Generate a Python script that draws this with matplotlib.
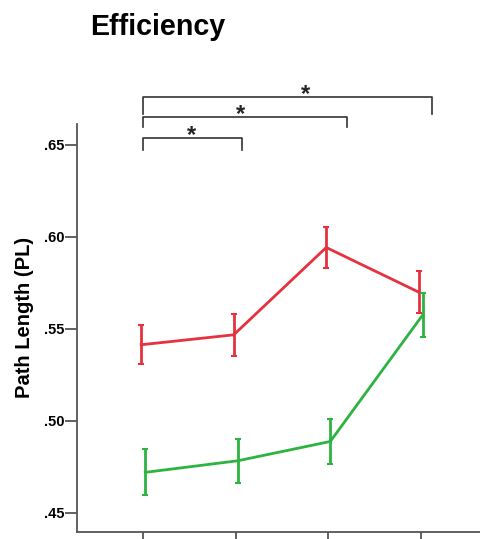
import numpy as np
import matplotlib.pyplot as plt

plt.rcParams['font.family'] = ['Liberation Sans', 'DejaVu Sans']

conditions = [1, 2, 3, 4]
red_mean = [0.5413, 0.5467, 0.5942, 0.5699]
red_err = [0.0105, 0.0115, 0.0113, 0.0113]
green_mean = [0.4719, 0.4782, 0.4887, 0.5576]
green_err = [0.0125, 0.0120, 0.0123, 0.0120]

# significance brackets: (left x, right x, bar y, end y, star x)
brackets = [(1.0, 2.063, 0.6540, 0.6473, 1.523),
            (1.0, 3.203, 0.6654, 0.6596, 2.050),
            (1.0, 4.120, 0.6760, 0.6669, 2.754)]

fig = plt.figure(figsize=(4.8, 5.39), dpi=100)
ax = fig.add_axes([0.161, 0.0121, 0.851, 0.758])

red = '#e5323f'
green = '#2db340'
xr = np.array(conditions) - 0.022
xg = np.array(conditions) + 0.022
ax.errorbar(xr, red_mean, yerr=red_err, color=red, lw=2, elinewidth=2,
            capsize=2, capthick=1.5)
ax.errorbar(xg, green_mean, yerr=green_err, color=green, lw=2, elinewidth=2,
            capsize=2, capthick=1.5)

for x0, x1, yb, ye, xs in brackets:
    ax.plot([x0, x0, x1, x1], [ye, yb, yb, ye], color='#333333', lw=1.2,
            clip_on=False)
    ax.annotate('*', xy=(xs, yb), xytext=(0, -3), textcoords='offset points',
                ha='center', va='baseline', fontsize=17, fontweight='bold',
                color='#222222', annotation_clip=False)

ax.set_xlim(0.2873, 4.702)
ax.set_ylim(0.4392, 0.6614)
ax.set_yticks([0.45, 0.50, 0.55, 0.60, 0.65])
ax.set_yticklabels(['.45', '.50', '.55', '.60', '.65'])
ax.set_xticks(conditions)
ax.set_xticklabels([])

for s in ['top', 'right']:
    ax.spines[s].set_visible(False)
for s in ['left', 'bottom']:
    ax.spines[s].set_color('#555555')
    ax.spines[s].set_linewidth(1.3)
ax.tick_params(direction='out', length=9, width=1.3, color='#555555',
               labelsize=10.5, pad=0.5)
for lab in ax.get_yticklabels():
    lab.set_fontweight('bold')

ax.set_ylabel('Path Length (PL)', fontsize=14.5, fontweight='bold', va='center')
ax.yaxis.set_label_coords(-0.130, 0.5275)
fig.text(0.1875, 1 - 35 / 539, 'Efficiency', fontsize=20.6, fontweight='bold',
         ha='left', va='baseline')

plt.savefig('out.png')
